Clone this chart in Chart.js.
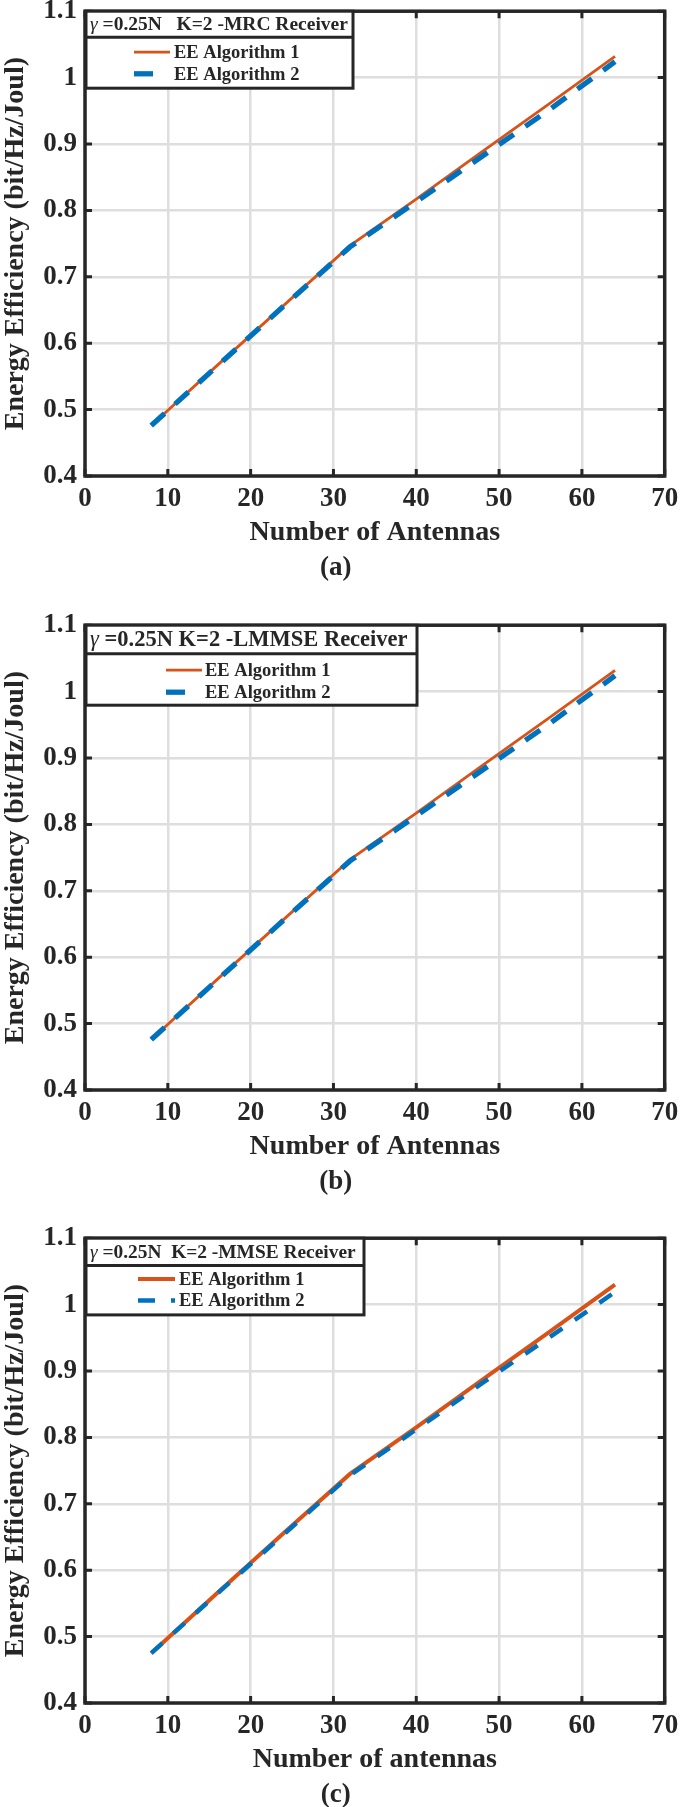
<!DOCTYPE html>
<html>
<head>
<meta charset="utf-8">
<script src="https://cdn.jsdelivr.net/npm/chart.js@4.4.1/dist/chart.umd.min.js"></script>
<style>
html, body { margin: 0; padding: 0; background: #fff; overflow: hidden; }
body { position: relative; width: 685px; height: 1807px; }
canvas { position: absolute; left: 0; }
</style>
</head>
<body>
<canvas id="chartA" width="685" height="605"></canvas>
<canvas id="chartB" width="685" height="605"></canvas>
<canvas id="chartC" width="685" height="605"></canvas>
<script>
// data
const antennas = [8, 16, 24, 32, 40, 48, 56, 64];

const mrcAlg1 = [0.476, 0.567, 0.657, 0.747, 0.817, 0.889, 0.960, 1.032];
const mrcAlg2 = [0.476, 0.566, 0.656, 0.745, 0.813, 0.882, 0.951, 1.024];

const lmmseAlg1 = [0.476, 0.567, 0.657, 0.747, 0.817, 0.889, 0.960, 1.032];
const lmmseAlg2 = [0.476, 0.566, 0.656, 0.745, 0.813, 0.882, 0.951, 1.024];

const mmseAlg1 = [0.475, 0.566, 0.656, 0.745, 0.815, 0.887, 0.958, 1.030];
const mmseAlg2 = [0.475, 0.565, 0.654, 0.743, 0.812, 0.882, 0.950, 1.019];

const seriesLabels = ['EE Algorithm 1', 'EE Algorithm 2'];
const xTickValues = [0, 10, 20, 30, 40, 50, 60, 70];
const yTickValues = [0.4, 0.5, 0.6, 0.7, 0.8, 0.9, 1.0, 1.1];
const yTickLabels = ['0.4', '0.5', '0.6', '0.7', '0.8', '0.9', '1', '1.1'];

const serif = "'Liberation Serif', 'Times New Roman', serif";
const ink = '#262626';
const orange = '#D95319';
const blue = '#0072BD';

// box round the axes with inward ticks, like matlab
const frameBox = {
    id: 'frameBox',
    afterDatasetsDraw(chart) {
        const {ctx, chartArea, scales} = chart;
        const a = chartArea;
        ctx.save();
        ctx.strokeStyle = ink;
        ctx.lineWidth = 3;
        ctx.beginPath();
        scales.x.ticks.forEach(t => {
            let px = scales.x.getPixelForValue(t.value);
            ctx.moveTo(px, a.bottom); ctx.lineTo(px, a.bottom - 7);
            ctx.moveTo(px, a.top); ctx.lineTo(px, a.top + 7);
        });
        scales.y.ticks.forEach(t => {
            let py = scales.y.getPixelForValue(t.value);
            ctx.moveTo(a.left, py); ctx.lineTo(a.left + 7, py);
            ctx.moveTo(a.right, py); ctx.lineTo(a.right - 7, py);
        });
        ctx.stroke();
        ctx.lineWidth = 3.5;
        ctx.strokeRect(a.left, a.top, a.right - a.left, a.bottom - a.top);
        ctx.restore();
    }
};

// legend with a header row, drawn inside the top left of the axes
const boxLegend = {
    id: 'boxLegend',
    afterDraw(chart, args, opts) {
        const {ctx, chartArea} = chart;
        const top = chartArea.top;
        const left = chartArea.left + 1;
        ctx.save();
        ctx.fillStyle = '#fff';
        ctx.fillRect(left, top, opts.right - left, opts.bottom);
        ctx.strokeStyle = ink;
        ctx.lineWidth = 3;
        ctx.strokeRect(left, top, opts.right - left, opts.bottom);
        ctx.beginPath();
        ctx.moveTo(left, top + opts.sep);
        ctx.lineTo(opts.right, top + opts.sep);
        ctx.stroke();

        // header: greek letter in italic, rest bold
        ctx.fillStyle = ink;
        ctx.textBaseline = 'middle';
        ctx.textAlign = 'left';
        let hy = top + opts.sep / 2 + 1;
        ctx.font = 'italic ' + opts.headerSize + 'px ' + serif;
        ctx.fillText('γ', left + 4, hy);
        let gw = ctx.measureText('γ').width;
        ctx.font = 'bold ' + opts.headerSize + 'px ' + serif;
        ctx.fillText(opts.header, left + 4 + gw, hy);

        const rows = [opts.row1, opts.row2];
        chart.data.datasets.forEach((ds, i) => {
            let y = top + rows[i];
            ctx.strokeStyle = ds.borderColor;
            ctx.lineWidth = ds.borderWidth;
            ctx.setLineDash(i === 1 ? opts.legendDash : []);
            ctx.beginPath();
            ctx.moveTo(opts.sampleX, y);
            ctx.lineTo(opts.sampleX + opts.sampleW, y);
            ctx.stroke();
            ctx.setLineDash([]);
            ctx.fillStyle = ink;
            ctx.font = 'bold 18.5px ' + serif;
            ctx.fillText(ds.label, opts.textX, y + 1);
        });
        ctx.restore();
    }
};

function points(values) {
    return antennas.map((n, i) => ({x: n, y: values[i]}));
}

function makeChart(id, pageTop, alg1, alg2, cfg) {
    const canvas = document.getElementById(id);
    canvas.style.top = (pageTop - 20) + 'px';

    return new Chart(canvas, {
        type: 'line',
        data: {
            datasets: [{
                label: seriesLabels[0],
                data: points(alg1),
                borderColor: orange,
                borderWidth: cfg.orangeWidth,
                pointRadius: 0,
                tension: 0,
                order: 1
            }, {
                label: seriesLabels[1],
                data: points(alg2),
                borderColor: blue,
                borderWidth: cfg.blueWidth,
                borderDash: cfg.dash,
                borderCapStyle: 'butt',
                pointRadius: 0,
                tension: 0,
                order: 0
            }]
        },
        options: {
            responsive: false,
            animation: false,
            devicePixelRatio: 1,
            layout: {padding: {top: 20, right: 13.5, left: 0, bottom: 0}},
            scales: {
                x: {
                    type: 'linear',
                    min: 0,
                    max: 70,
                    afterBuildTicks: (scale) => {
                        scale.ticks = xTickValues.map(v => ({value: v}));
                    },
                    ticks: {
                        autoSkip: false,
                        maxRotation: 0,
                        padding: 6.8,
                        color: ink,
                        font: {family: serif, size: 27, weight: 'bold', lineHeight: 1.2},
                        callback: (v) => String(v)
                    },
                    grid: {color: '#dedede', lineWidth: 2.5, drawTicks: false},
                    border: {display: false},
                    title: {
                        display: true,
                        text: cfg.xTitle,
                        color: ink,
                        font: {family: serif, size: 28, weight: 'bold', lineHeight: 1.2},
                        padding: {top: -6.4, bottom: 0}
                    }
                },
                y: {
                    min: 0.4,
                    max: 1.1,
                    afterBuildTicks: (scale) => {
                        scale.ticks = yTickValues.map(v => ({value: v}));
                    },
                    afterFit: (scale) => { scale.width = 85; },
                    ticks: {
                        padding: 8,
                        color: ink,
                        font: {family: serif, size: 27, weight: 'bold', lineHeight: 1.2},
                        callback: (v) => {
                            let i = yTickValues.findIndex(t => Math.abs(t - v) < 1e-9);
                            return i >= 0 ? yTickLabels[i] : '';
                        }
                    },
                    grid: {color: '#dedede', lineWidth: 2.5, drawTicks: false},
                    border: {display: false},
                    title: {
                        display: true,
                        text: 'Energy Efficiency (bit/Hz/Joul)',
                        color: ink,
                        font: {family: serif, size: 28, weight: 'bold', lineHeight: 1.2},
                        padding: {top: -1, bottom: 0}
                    }
                }
            },
            plugins: {
                legend: {display: false},
                tooltip: {enabled: false},
                title: {
                    display: true,
                    position: 'bottom',
                    text: cfg.caption,
                    color: ink,
                    font: {family: serif, size: 27, weight: 'bold', lineHeight: 1.2},
                    padding: {top: 2.4, bottom: 8}
                },
                boxLegend: cfg.legend
            }
        },
        plugins: [frameBox, boxLegend]
    });
}

makeChart('chartA', 7.4, mrcAlg1, mrcAlg2, {
    xTitle: 'Number of Antennas',
    caption: '(a)',
    orangeWidth: 2.8,
    blueWidth: 5.3,
    dash: [18, 14],
    legend: {
        header: ' =0.25N   K=2 -MRC Receiver', headerSize: 19.5,
        right: 353, sep: 26, bottom: 77, row1: 41, row2: 62.6,
        sampleX: 134, sampleW: 36, textX: 174, legendDash: [19, 20]
    }
});

makeChart('chartB', 621, lmmseAlg1, lmmseAlg2, {
    xTitle: 'Number of Antennas',
    caption: '(b)',
    orangeWidth: 2.8,
    blueWidth: 5.3,
    dash: [18, 14],
    legend: {
        header: ' =0.25N K=2 -LMMSE Receiver', headerSize: 22.5,
        right: 417, sep: 28.5, bottom: 80, row1: 45, row2: 67,
        sampleX: 166, sampleW: 36, textX: 205, legendDash: [19, 20]
    }
});

makeChart('chartC', 1234.3, mmseAlg1, mmseAlg2, {
    xTitle: 'Number of antennas',
    caption: '(c)',
    orangeWidth: 4,
    blueWidth: 4.5,
    dash: [15, 15],
    legend: {
        header: ' =0.25N  K=2 -MMSE Receiver', headerSize: 19.4,
        right: 364, sep: 27.4, bottom: 76.7, row1: 40.7, row2: 62.4,
        sampleX: 138, sampleW: 37, textX: 179, legendDash: [17, 16, 4, 16]
    }
});
</script>
</body>
</html>
